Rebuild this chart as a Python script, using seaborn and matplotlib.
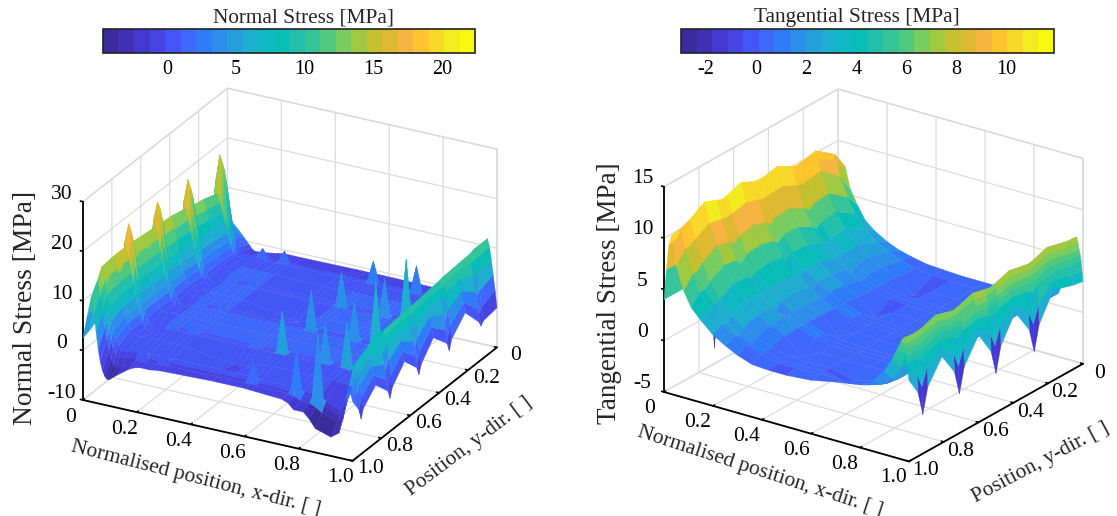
#%% Packages
import numpy as np
import matplotlib
matplotlib.use("Agg")
import matplotlib.pyplot as plt
import seaborn as sns
from matplotlib.cm import ScalarMappable
from matplotlib.colors import ListedColormap, Normalize
from mpl_toolkits.mplot3d import proj3d

#%% Data
bar_colours = ['#3a2a9a', '#3f30b4', '#4339d0', '#4645e4', '#4455f5', '#3e68fa', '#2f7cf8', '#2c8eea',
               '#259edc', '#1daed0', '#10b8c4', '#08bcb8', '#22c0ab', '#35c598', '#50c880', '#78cc60',
               '#a0c840', '#c4c030', '#dfb930', '#f6b540', '#ffc52f', '#f8d92a', '#f2ec20', '#f7f90f']

pos_ticks = [0, 0.2, 0.4, 0.6, 0.8, 1.0]
pos_labels = ['0', '0.2', '0.4', '0.6', '0.8', '1.0']

normal_x = [0, .015, .03, .04, .048, .056, .064, .072, .08, .09, .10, .125,
            .168, .19, .212, .248, .27, .292, .478, .50, .522, .578, .60, .622, .738, .76, .782, .818, .84, .862,
            .92, .95, .965, .972, .979, .986, .993, 1.0]
normal_y = [0, .094, .11, .126, .22, .314, .33, .346, .44, .524, .54, .556, .64, .724, .74, .756, .84, .925, .94, .955, 1.0]
normal_stress = [
    [0, 1.5, 2.5, 2, 1.5, 1, .5, 0, -.5, -1.2, -1.6, -1.6,
     -1.2, -1, -.8, -.8, -.8, -.8, -.7, -.7, -.7, -.7, -.7, -.7, -.8, -.8, -.8, -.8, -.9, -.9,
     -.5, 8.5, 11.5, 10, 7.5, 4.5, 1.5, -2],
    [3, 6, 8, 7, 6, 4.6, 3.4, 2.2, 1, 0, -.6, -.8,
     0, .2, .3, .3, .3, .3, .3, .3, .3, .3, .3, .3, .3, .3, .3, .3, .3, .3,
     .3, 8.5, 11.5, 10, 7.2, 3.5, .2, -2.5],
    [4, 14, 19.5, 18, 16.5, 14, 11, 8, 5.5, 3, 1.6, .5,
     .8, 2.5, .8, .8, 3, .8, .8, .8, .8, .8, 5, .8, .8, 6, .8, .8, 2, .8,
     .8, 8.5, 11.3, 9.5, 6.5, 2.8, -.8, -3.2],
    [4, 9.5, 12, 10.2, 8.2, 6.2, 4.4, 3, 1.8, .6, .3, .3,
     .7, .7, .7, .7, .7, .7, .7, .7, .7, .7, .7, .7, .7, .7, .7, .7, .7, .7,
     .7, 8.3, 11.2, 9.8, 7.2, 3.8, .6, -2],
    [4, 10, 13, 11, 9, 7, 5, 3.4, 2.2, 1, .7, .6,
     1, 1, 1, 1, 1, 1, .9, .9, .9, 1, 1, 1, 1, 1, 1, 1, 1, 1,
     1, 8, 11, 10, 8.5, 6.2, 4, 2],
    [4, 10, 13.6, 11.6, 9.4, 7.2, 5.2, 3.6, 2.3, 1, .2, -.8,
     1, 1, 1, 1, 1, 1, 1, 1, 1, 1, 1, 1, 1, 1, 1, 1, 1, 1,
     1, 8, 10.8, 9.7, 7.8, 4.6, 1.5, -1.2],
    [4, 15, 19.5, 18, 16.5, 14, 11, 8, 5.5, 3, 1, -1.2,
     .9, 3, .9, .9, 3.5, .9, .9, .9, .9, .9, 8, .9, .9, 8.5, .9, .9, 13.4, .9,
     .9, 8, 10.6, 9.2, 6.4, 2.8, -.8, -3.2],
    [4, 10.5, 14, 11.8, 9.6, 7.4, 5.4, 3.7, 2.4, 1, .2, -.8,
     1, 1, 1, 1, 1, 1, 1, 1, 1, 1, 1, 1, 1, 1, 1, 1, 1, 1,
     1, 7.8, 10.6, 9.5, 7.6, 4.4, 1.3, -1.3],
    [4, 11, 14.7, 12.4, 10, 7.8, 5.8, 4, 2.6, 1.4, .9, .8,
     1, 1, 1, 1, 1, 1, -.6, -.8, -.6, 1, 1, 1, 1, 1, 1, 1, 1, 1,
     1, 7.6, 10.3, 9.3, 8, 6, 4, 2],
    [4, 11, 15, 12.7, 10.2, 8, 5.9, 4.1, 2.7, 1.2, .2, -.8,
     1, 1, 1, 1, 1, 1, 1, 1, 1, 1, 1, 1, 1, 1, 1, 1, 1, 1,
     1, 7.4, 10, 8.9, 7, 4, 1, -1.4],
    [4, 16, 19.8, 18.5, 16.5, 14, 11, 8, 5.5, 3, 1, -1.2,
     .9, 3, .9, .9, 3, .9, .9, .9, .9, .9, 9, .9, .9, 9, .9, .9, 13.5, .9,
     .9, 7.3, 9.9, 8.6, 6, 2.5, -1, -3.2],
    [4, 11, 15.1, 12.8, 10.3, 8, 5.9, 4.1, 2.7, 1.2, .2, -.8,
     1, 1, 1, 1, 1, 1, 1, 1, 1, 1, 1, 1, 1, 1, 1, 1, 1, 1,
     1, 7.3, 9.9, 8.8, 6.9, 3.9, 1, -1.4],
    [4, 11, 15.4, 13, 10.4, 8.2, 6, 4.2, 2.8, 1.5, .9, .8,
     1, 1, 1, 1, 1, 1, 1, 1, 1, 1, 1, 1, 1, 1, 1, 1, 1, 1,
     1, 7, 9.7, 8.8, 7.5, 5.6, 3.7, 1.8],
    [4, 11, 15.7, 13.2, 10.6, 8.3, 6.1, 4.2, 2.8, 1.2, .2, -.8,
     1, 1, 1, 1, 1, 1, 1, 1, 1, 1, 1, 1, 1, 1, 1, 1, 1, 1,
     1, 6.8, 9.4, 8.4, 6.6, 3.8, .8, -1.5],
    [4, 16, 20, 18.5, 16.5, 14, 11, 8, 5.5, 3, 1, -1.2,
     .9, 2.5, .9, .9, 2.5, .9, .9, 3, .9, .9, 9.5, .9, .9, 9, .9, .9, 10, .9,
     .9, 6.7, 9.3, 8, 5.7, 2.3, -1.2, -3.4],
    [4, 11, 15.8, 13.3, 10.6, 8.3, 6.1, 4.2, 2.8, 1.2, .2, -.8,
     1, 1, 1, 1, 1, 1, 1, 1, 1, 1, 1, 1, 1, 1, 1, 1, 1, .9,
     .9, 6.6, 9.2, 8.3, 6.5, 3.7, .7, -1.5],
    [4, 11, 15.8, 13.3, 10.6, 8.3, 6.1, 4.2, 2.8, 1.5, .9, .6,
     .8, .8, .8, .8, .8, .7, -.6, -.8, -.6, .7, .7, .7, .7, .7, .7, .7, .7, .5,
     .4, 5.8, 8.5, 7.8, 6.8, 5.2, 3.5, 1.6],
    [3.5, 10, 15.5, 13, 10, 7.5, 5, 3, 1.5, .2, -.4, -.5,
     0, .1, .2, .2, .2, .2, .2, .2, .2, .2, .1, .1, 0, -.2, -.4, -.4, -.8, -1.4,
     -2.6, 3.5, 7, 6.4, 5.4, 3.6, 1, -1.2],
    [3.2, 9, 14.5, 11.8, 8.7, 6, 3.5, 1.5, 0, -1.2, -1.6, -1.4,
     -.6, 3, -.4, -.4, 3, -.2, -.2, -.1, -.1, -.1, 4, -.2, -.4, 8, -.8, -.8, 12.4, -2,
     -3.2, 1, 5.5, 5, 4, 1.8, -.8, -3],
    [3, 8, 13.5, 10.5, 7, 4.2, 1.8, -.2, -1.8, -3, -3.2, -2.8,
     -1, -.9, -.8, -.8, -.7, -.6, -.5, -.5, -.5, -.5, -.5, -.5, -.7, -1, -1.6, -1.6, -2.2, -3,
     -4.2, -1, 3.5, 3.6, 3.2, 2, .2, -.8],
    [2.5, 7, 11, 8, 4.5, 1, -1.5, -3.2, -4.2, -4.8, -4.6, -3.5,
     -1.8, -1.2, -.9, -.9, -.7, -.6, -.3, -.3, -.3, -.3, -.3, -.4, -.8, -1.3, -2.4, -2.4, -3.6, -5.2,
     -6.2, -5, -2, 0, 2, 4, 3.5, 2],
]

tang_x = [0, .01, .02, .03, .05, .08, .11, .15, .2, .25, .3, .36, .43,
          .5, .6, .7, .8, .85, .9, .93, .95,
          .965, .975, .98, .984, .988, .992, .996, 1.0]
tang_y = [0, .06, .17, .252, .28, .308, .39, .472, .50, .528, .60, .682, .71, .738, .81, .892, .92, .948, 1.0]
tang_stress = [
    [2, 5, 7.4, 7.6, 5.6, 4.2, 3, 2.2, 1.5, 1, .7, .4, .3,
     .2, .2, .2, .3, .5, 1.2, 3, 5, 6.6, 7.2, 6.7, 6.1, 5.6, 5, 4, 3],
    [3, 6, 8.8, 9.4, 7.4, 5.6, 4.2, 3, 2, 1.4, .9, .5, .3,
     .2, .2, .2, .3, .5, 1.2, 3, 5, 6.6, 7.3, 6.8, 6.2, 5.6, 5, 4.2, 3.2],
    [4, 7.5, 10, 10.8, 9, 7, 5.4, 4, 2.8, 2, 1.3, .7, -.6,
     .2, .2, .2, .3, .6, 1.5, 3.4, 5.4, 7, 7.8, 7.2, 6.6, 6, 5.3, 4.6, 3.8],
    [4, 7, 9.8, 10.5, 8.8, 6.8, 5.2, 3.9, 2.7, 1.9, 1.3, .8, .4,
     .3, .2, .2, .3, .5, 1.3, 3.1, 5, 6.6, 7.3, 6.8, 6.2, 5.6, 5, 3, 1.2],
    [-3.5, 3, 9.6, 10.4, 8.7, 6.4, 4.8, 3.5, 2.4, 1.4, 1.1, .8, .4,
     .3, .2, .2, .3, .5, 1.3, 3, 4.9, 6.5, 7.2, 6.7, 6.1, 5.5, 4.6, 1.5, -1.2],
    [4, 7, 9.8, 10.6, 8.9, 6.9, 5.3, 4, 2.8, 2, 1.3, .8, .4,
     .3, .2, .2, .3, .5, 1.3, 3, 4.9, 6.6, 7.3, 6.8, 6.2, 5.6, 4.9, 3, 1.2],
    [4, 7.5, 10.5, 11.4, 9.6, 7.6, 6, 4.5, 3.2, 2.3, 1.6, .9, -.6,
     .3, .2, .2, .3, .6, 1.5, 3.4, 5.3, 6.9, 7.6, 7, 6.4, 5.8, 5.2, 4.5, 3.7],
    [4, 7.2, 10.2, 11.1, 9.5, 7.6, 6, 4.6, 3.3, 2.4, 1.7, 1.1, .5,
     .4, .3, .2, .3, .5, 1.3, 3, 4.9, 6.4, 7.1, 6.6, 6, 5.4, 4.8, 3, 1.2],
    [-3.5, 3, 10, 11.1, 9.4, 7.1, 5.5, 4.1, 2.8, 1.7, 1.4, 1.1, .5,
     .4, .3, .2, .3, .5, 1.3, 3, 4.8, 6.3, 7, 6.5, 5.9, 5.3, 4.4, 1.5, -1.2],
    [4, 7.2, 10.2, 11.2, 9.6, 7.6, 6, 4.6, 3.3, 2.4, 1.7, 1.1, .5,
     .4, .3, .2, .3, .5, 1.3, 3, 4.8, 6.4, 7.1, 6.5, 6, 5.4, 4.7, 3, 1.2],
    [4, 7.6, 10.8, 11.8, 10, 8, 6.3, 4.9, 3.5, 2.6, 1.8, 1.1, -.5,
     .4, .3, .2, .3, .6, 1.5, 3.3, 5.2, 6.7, 7.4, 6.8, 6.2, 5.6, 5, 4.3, 3.5],
    [4, 7.3, 10.4, 11.3, 9.7, 7.7, 6.1, 4.7, 3.4, 2.5, 1.8, 1.2, .6,
     .4, .3, .3, .3, .5, 1.3, 2.9, 4.7, 6.2, 6.9, 6.4, 5.8, 5.2, 4.6, 3, 1.2],
    [-3.5, 3, 10.2, 11.2, 9.6, 7.2, 5.6, 4.2, 2.9, 1.8, 1.5, 1.2, .6,
     .4, .3, .3, .3, .5, 1.3, 2.9, 4.6, 6.1, 6.8, 6.3, 5.7, 5.1, 4.2, 1.5, -1.2],
    [4, 7.3, 10.5, 11.4, 9.7, 7.7, 6.1, 4.7, 3.4, 2.5, 1.8, 1.2, .6,
     .4, .3, .3, .3, .5, 1.3, 2.9, 4.7, 6.2, 6.9, 6.3, 5.8, 5.2, 4.5, 3, 1.2],
    [4, 7.6, 10.9, 11.9, 10, 8, 6.3, 4.8, 3.5, 2.4, 1.7, 1.1, -.5,
     .5, .4, .4, .5, .8, 1.6, 3.3, 5, 6.5, 7.3, 6.7, 6.1, 5.5, 4.9, 4.2, 3.4],
    [4, 7, 10, 11, 9.2, 7.1, 5.4, 4, 2.8, 2, 1.4, .8, .4,
     .3, .4, -.2, .5, .8, 1.6, 3.1, 4.8, 6.1, 6.8, 6.3, 5.7, 5.1, 4.5, 3, 1.2],
    [4, 7, 9.8, 10.8, 8.9, 6.6, 5, 3.6, 2.3, 1.4, 1, .6, .2,
     .2, .3, -.2, .5, .8, 1.6, 3.1, 4.7, 6, 6.7, 6.2, 5.6, 5, 4.1, 1.5, -1.2],
    [4, 7, 9.7, 10.6, 8.8, 6.5, 5, 3.7, 2.5, 1.7, 1.1, .6, .2,
     .2, .3, .4, .6, 1, 1.8, 3.2, 4.7, 6, 6.7, 6.2, 5.6, 5, 4.4, 3, 1.2],
    [4, 7, 9.5, 10.4, 7.6, 5.4, 4, 3, 1.9, 1.2, .6, .1, 0,
     0, .2, .7, 1.1, 1.8, 3.2, 4.4, 5.5, 6.3, 6.8, 6.3, 5.7, 5.1, 4.5, 3.7, 2.9],
]

#%% Style
sns.set_theme(style='white')
plt.rcParams['font.family'] = ['Liberation Serif', 'DejaVu Serif']
plt.rcParams['axes.unicode_minus'] = False
parula = ListedColormap(sns.color_palette(bar_colours))


def facet_colours(z, norm, steep, cut, tip):
    # a facet takes its mean, a steep low facet at a spike leans to its extreme corner
    corners = np.stack([z[:-1, :-1], z[1:, :-1], z[:-1, 1:], z[1:, 1:]])
    mean = corners.mean(axis=0)
    far_idx = np.abs(corners - mean).argmax(axis=0)
    far = np.take_along_axis(corners, far_idx[None], axis=0)[0]
    spiky = (corners.max(axis=0) - corners.min(axis=0) > steep) & (mean < cut)
    return parula(norm(np.where(spiky, mean + tip * (far - mean), mean)))


def fit_box(fig, ax, zmin, left_px, right_px):
    # scale and move the axes so that the floor corners land on the wanted pixels
    fig.canvas.draw()
    M = ax.get_proj()
    a = proj3d.proj_transform(0, 1, zmin, M)[:2]
    b = proj3d.proj_transform(1, 0, zmin, M)[:2]
    a, b = ax.transData.transform([a, b])
    W, H = fig.canvas.get_width_height()
    a_t = np.array([left_px[0], H - left_px[1]], dtype=float)
    b_t = np.array([right_px[0], H - right_px[1]], dtype=float)
    scale = (b_t[0] - a_t[0]) / (b[0] - a[0])
    box = ax.get_position()
    x0, y0 = box.x0 * W, box.y0 * H
    side = box.width * W * scale
    x0 = a_t[0] - (a[0] - x0) * scale
    y0 = a_t[1] - (a[1] - y0) * scale
    ax.set_position([x0 / W, y0 / H, side / W, side / H])


def stress_panel(fig, x, y, stress, zlim, zticks, zlabel, cbar_rect, clim, cticks, cname, title_x,
                 view, aspect, left_px, right_px, xrot, yrot, zpad, xpad, ypad, steep, cut, tip):
    X, Y = np.meshgrid(x, y)
    Z = np.array(stress, dtype=float)
    norm = Normalize(*clim)

    ax = fig.add_axes([0.05, 0.05, 0.4, 0.4 * 1117 / 516], projection='3d', proj_type='ortho')
    ax.view_init(elev=view[0], azim=view[1])
    ax.set_box_aspect(aspect)
    ax.plot_surface(X, Y, Z, rstride=1, cstride=1, facecolors=facet_colours(Z, norm, steep, cut, tip),
                    shade=False, linewidth=0.25, antialiased=True)
    ax.set_xlim(0, 1, view_margin=0)
    ax.set_ylim(1, 0, view_margin=0)
    ax.set_zlim(*zlim, view_margin=0)

    ax.set_xticks(pos_ticks, pos_labels)
    ax.set_yticks(pos_ticks, pos_labels)
    ax.set_zticks(zticks, [str(t) for t in zticks])
    ax.tick_params(axis='both', labelsize=15.5, colors='black')
    ax.tick_params(axis='x', pad=xpad[0])
    ax.tick_params(axis='y', pad=ypad[0])
    ax.tick_params(axis='z', pad=zpad[0])

    ax.zaxis._axinfo['juggled'] = (1, 2, 0)
    for axis in (ax.xaxis, ax.yaxis, ax.zaxis):
        axis.set_pane_color((1, 1, 1, 1))
        axis.pane.set_edgecolor('#d4d4d4')
        axis.line.set_color('black')
        axis.line.set_linewidth(1.3)
        axis.set_rotate_label(False)
        axis._axinfo['grid'].update(color='#dcdcdc', linewidth=0.9)
        axis._axinfo['tick'].update(inward_factor=0.0, outward_factor=0.12, linewidth={True: 1.2, False: 1.0})
        for tick in axis.get_major_ticks():
            tick.label1.set_va('bottom')

    ax.set_xlabel('Normalised position, x-dir. [ ]', fontsize=15.5, rotation=xrot, labelpad=xpad[1])
    ax.set_ylabel('Position, y-dir. [ ]', fontsize=15.5, rotation=yrot, labelpad=ypad[1])
    ax.set_zlabel(zlabel, fontsize=zpad[2], rotation=90, labelpad=zpad[1])
    ax.grid(True)
    fit_box(fig, ax, zlim[0], left_px, right_px)

    cax = fig.add_axes(cbar_rect)
    cb = fig.colorbar(ScalarMappable(norm=norm, cmap=parula), cax=cax, orientation='horizontal', ticks=cticks)
    cb.ax.set_xticklabels([str(t) for t in cticks])
    cb.ax.tick_params(labelsize=14.5, length=3, width=0.8, direction='in', pad=5, colors='black')
    cb.outline.set_linewidth(1.2)
    cb.outline.set_edgecolor('#222222')
    cax.set_title(cname, fontsize=15.3, x=title_x, pad=5)
    return ax


#%% Plot
fig = plt.figure(figsize=(11.17, 5.16), dpi=100, facecolor='white')

stress_panel(fig, normal_x, normal_y, normal_stress, (-10, 30), [-10, 0, 10, 20, 30], 'Normal Stress [MPa]',
             [103 / 1117, 1 - 53 / 516, 372 / 1117, 24 / 516], (-4.66, 22.4), [0, 5, 10, 15, 20], 'Normal Stress [MPa]', 0.54,
             view=(24.9, -61.8), aspect=(1, 1, 0.715), left_px=(83, 400), right_px=(497, 347),
             xrot=-14.3, yrot=37, zpad=(1, 3.3, 19.8), xpad=(7, 6), ypad=(4, 8), steep=2, cut=5, tip=0.2)

stress_panel(fig, tang_x, tang_y, tang_stress, (-5, 15), [-5, 0, 5, 10, 15], 'Tangential Stress [MPa]',
             [681 / 1117, 1 - 53 / 516, 373 / 1117, 24 / 516], (-3.0, 11.9), [-2, 0, 2, 4, 6, 8, 10], 'Tangential Stress [MPa]', 0.472,
             view=(23.5, -54.6), aspect=(1, 1, 0.745), left_px=(664, 392), right_px=(1083, 363),
             xrot=-18, yrot=28, zpad=(1, 1.6, 19.5), xpad=(7, 5), ypad=(4, 11), steep=4, cut=99, tip=1)

fig.savefig('out.png', dpi=100)
